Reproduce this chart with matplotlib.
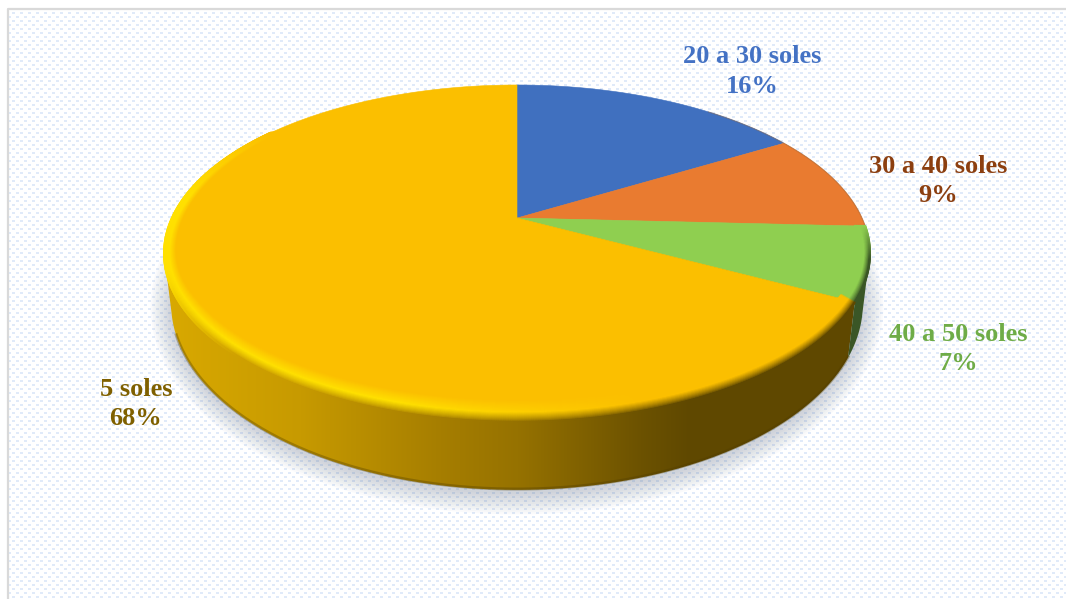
import numpy as np
import matplotlib
matplotlib.use("Agg")
import matplotlib.pyplot as plt
from matplotlib.patches import Polygon
from matplotlib.collections import LineCollection
from matplotlib.colors import to_rgb

categories = ["20 a 30 soles", "30 a 40 soles", "40 a 50 soles", "5 soles"]
label_percent = [16, 9, 7, 68]
slice_share = [16.4, 9.4, 7.0, 67.2]
top_colors = ["#4070BF", "#E97B30", "#8FCF50", "#FBBF00"]
text_colors = ["#4472C4", "#8C3F10", "#6FAC47", "#7F6000"]
label_pos = [(752, 71.5), (938, 181), (958, 349), (136, 404)]

W, H = 1066, 599
fig = plt.figure(figsize=(W / 100, H / 100), dpi=100)
ax = fig.add_axes([0, 0, 1, 1])

# textured background
yy, xx = np.mgrid[0:H, 0:W]
dots = (((xx % 8) < 3) & ((yy % 8) < 2)) | (((xx + 4) % 8 < 3) & ((yy + 4) % 8 < 2))
bg = np.ones((H, W, 3))
bg[dots] = np.array([0.88, 0.92, 0.98])
ax.imshow(bg, extent=(0, W, H, 0), interpolation="bilinear", aspect="auto", zorder=0)
ax.fill_between([0, W], 0, 8, color="white", zorder=0.5, lw=0)
ax.fill_between([0, 7], 0, H, color="white", zorder=0.5, lw=0)
ax.plot([7.5, 7.5, W], [H, 8.5, 8.5], color="#D9D9D9", lw=1.6, zorder=0.6)

# perspective pie geometry
CX, CY, A, C, K = 517, 218, 345, 161, 0.2103
BOTTOM_DROP, BOTTOM_SX, BOTTOM_SY = 46.8, 0.98, 1.104


def project(theta, depth=0.0, sx=1.0, sy=1.0):
    u, v = np.sin(theta), np.cos(theta)
    w = 1 + K * v
    return CX + sx * A * u / w, CY - sy * C * v / w + depth


def bottom(theta):
    return project(theta, BOTTOM_DROP, BOTTOM_SX, BOTTOM_SY)


edges = np.r_[0, np.cumsum(slice_share)] / np.sum(slice_share) * 2 * np.pi
seam = edges[3]

# wall colours by horizontal position
wall_x = [165, 300, 440, 517, 640, 690, 870]
wall_c = np.array([to_rgb(c) for c in
                   ["#D9A900", "#C79A00", "#A67E00", "#967200", "#6C5200", "#5F4800", "#5F4800"]])


def wall_colour(x):
    return np.stack([np.interp(x, wall_x, wall_c[:, i]) for i in range(3)], axis=-1)


# soft shadow under the disc
full = np.linspace(0, 2 * np.pi, 361)
for grow in np.linspace(22, 1, 11):
    x, y = bottom(full)
    x = CX + (x - CX) * (1 + grow / 370)
    y = 304 + (y - 304) * (1 + grow / 190) + 3
    ax.add_patch(Polygon(np.c_[x, y], closed=True, fc="#5A6A85", alpha=0.028, ec="none", zorder=1))

# gold wall: horizontal gradient clipped to the lower rim and the left tangent
tw = np.linspace(seam, np.radians(255), 400)
bx, by = bottom(tw)
sx_, sy_ = project(np.array([np.radians(258)]))
tx_, ty_ = project(np.array([seam]))
clip = Polygon(np.c_[np.r_[bx, sx_, CX, tx_], np.r_[by, sy_, CY, ty_]], closed=True,
               transform=ax.transData, fc="none", ec="none")
ax.add_patch(clip)
grad_x = np.arange(150, 880)
im = ax.imshow(wall_colour(grad_x)[None, :, :], extent=(150, 880, 500, 100), aspect="auto", zorder=2)
im.set_clip_path(clip)

# green wall
tg = np.linspace(np.radians(102), seam, 60)
xa, ya = project(tg)
xb, yb = bottom(np.linspace(seam, np.radians(105), 60))
ax.add_patch(Polygon(np.c_[np.r_[xa, xb], np.r_[ya, yb]], closed=True, fc="#3A5626", ec="none", zorder=2.1))

# dark lower lip of the wall
tl = np.linspace(seam, 1.38 * np.pi, 300)
lx, ly = bottom(tl)
ax.plot(lx, ly - 0.8, color="#4F3C00", lw=2.2, alpha=0.35, zorder=2.3)

# top faces
for i in range(len(slice_share)):
    t = np.linspace(edges[i], edges[i + 1], 200)
    x, y = project(t)
    ax.add_patch(Polygon(np.c_[np.r_[CX, x], np.r_[CY, y]], closed=True,
                         fc=top_colors[i], ec=top_colors[i], lw=0.4, zorder=3))
# thin darker edge along the back-right rim
tr = np.linspace(0.7, np.pi / 2 + 0.1, 80)
rx, ry = project(tr)
ax.plot(rx, ry, color="#8A5A30", lw=0.8, alpha=0.4, zorder=3.1)

# bevel on the front rim
gold, green = np.array(to_rgb(top_colors[3])), np.array(to_rgb(top_colors[2]))
dark_green = np.array(to_rgb("#3A5626"))
hot = np.array(to_rgb("#FFE000"))
th = np.linspace(1.62, 5.35, 700)
n_rings = 22
for f in np.linspace(0, 1, n_rings)[::-1]:
    u, v = np.sin(th) * (1 - 0.03 * f), np.cos(th)
    v = v * (1 - 0.085 * f * np.clip(-v * 2, 0, 1))
    w = 1 + K * v
    x = CX + A * u / w
    y = CY - C * v / w
    is_green = (th < seam)[:, None]
    base = np.where(is_green, green, gold)
    left = np.clip((640 - x) / 240, 0, 1)[:, None]
    hi = base + (hot - base) * left * (~is_green)
    edge = np.where(is_green, dark_green, wall_colour(x))
    upper = np.clip((th - 3.9) / 0.5, 0, 1)[:, None]
    edge = edge + (hi - edge) * upper
    if f < 0.42:
        col = edge + (hi - edge) * (f / 0.42) ** 0.8
    else:
        col = hi + (base - hi) * (f - 0.42) / 0.58
    fade = (np.clip((th - 1.62) / 0.2, 0, 1) * np.clip((5.35 - th) / 0.5, 0, 1))[:, None]
    col = base + (col - base) * fade
    pts = np.c_[x, y]
    segs = np.stack([pts[:-1], pts[1:]], axis=1)
    ax.add_collection(LineCollection(segs, colors=col[:-1], linewidths=1.6,
                                     zorder=3.2 + 0.001 * (1 - f), capstyle="round"))

# labels
for name, val, col, (lx_, ly_) in zip(categories, label_percent, text_colors, label_pos):
    ax.text(lx_, ly_, f"{name}\n{val}%", ha="center", va="center", color=col,
            family="Liberation Serif", fontweight="bold", fontsize=19, linespacing=1.34, zorder=5)

ax.set_xlim(0, W)
ax.set_ylim(H, 0)
ax.axis("off")
fig.savefig("out.png", dpi=100)
